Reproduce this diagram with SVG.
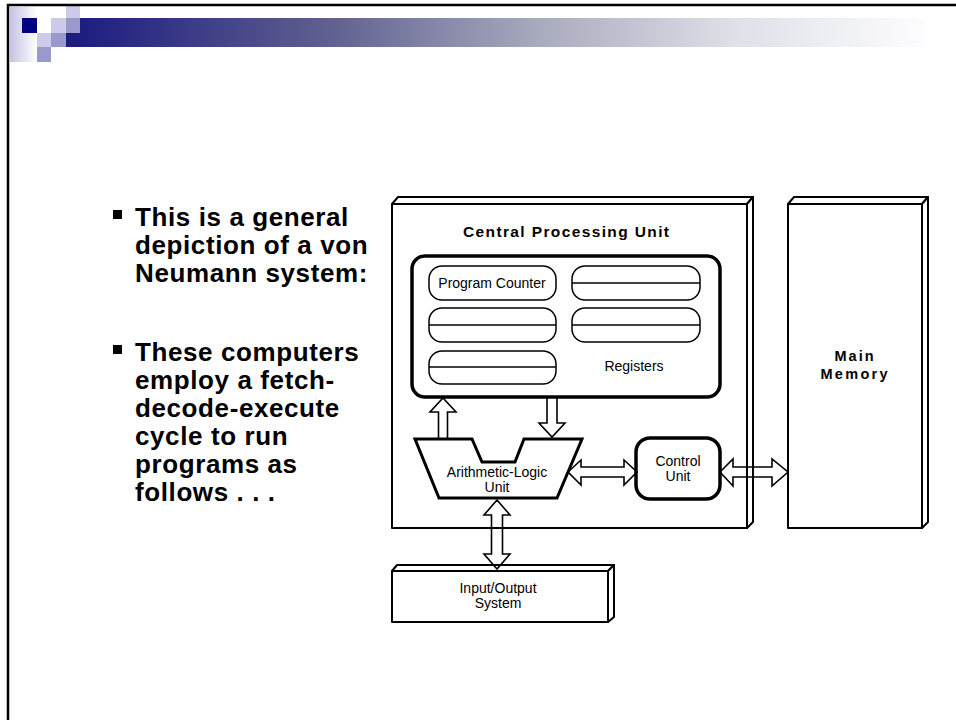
<svg xmlns="http://www.w3.org/2000/svg" width="956" height="720" viewBox="0 0 956 720">
<defs>
<linearGradient id="bar" x1="0" y1="0" x2="1" y2="0">
<stop offset="0" stop-color="#1a1a80"/>
<stop offset="0.3" stop-color="#5e5e90"/>
<stop offset="0.55" stop-color="#a8aabe"/>
<stop offset="0.78" stop-color="#dfe0e8"/>
<stop offset="1" stop-color="#fdfdff"/>
</linearGradient>
<linearGradient id="strip" x1="0" y1="0" x2="1" y2="0">
<stop offset="0" stop-color="#c4c4e2"/>
<stop offset="1" stop-color="#ffffff"/>
</linearGradient>
</defs>
<style>
.box{fill:#fff;stroke:#000;stroke-width:2;stroke-linejoin:round}
.thick{fill:#fff;stroke:#000;stroke-width:3.5}
.reg{fill:#fff;stroke:#000;stroke-width:1.5}
.ln{stroke:#000;stroke-width:1.5}
.arr{fill:none;stroke:#000;stroke-width:1.6;stroke-linejoin:miter}
.t{font-family:"Liberation Sans",Arial,sans-serif;font-size:14px;fill:#000;text-anchor:middle}
.tb{font-family:"Liberation Sans",Arial,sans-serif;font-weight:bold;fill:#000;text-anchor:middle}
.bul{font-family:"Liberation Sans",Arial,sans-serif;font-weight:bold;font-size:26px;letter-spacing:0.6px;fill:#000}
</style>
<rect width="956" height="720" fill="#fff"/>
<g id="header">
<rect x="10" y="7" width="27" height="55" fill="url(#strip)"/>
<rect x="66" y="18" width="859" height="29" fill="url(#bar)"/>
<rect x="22" y="18" width="15" height="15" fill="#000080"/>
<rect x="51" y="18" width="15" height="15" fill="#ccccea"/>
<rect x="66" y="18" width="14" height="15" fill="#9999cc"/>
<rect x="66" y="4" width="14" height="14" fill="#ccccea"/>
<rect x="37" y="33" width="14" height="14" fill="#ccccea"/>
<rect x="51" y="33" width="15" height="14" fill="#9999cc"/>
<rect x="37" y="47" width="14" height="15" fill="#9999cc"/>
<rect x="8" y="5" width="1000" height="800" fill="none" stroke="#000" stroke-width="2.5"/>
</g>
<g id="bullets">
<rect x="113" y="210" width="9" height="9" fill="#000"/>
<text class="bul" x="135" y="226">This is a general</text>
<text class="bul" x="135" y="254">depiction of a von</text>
<text class="bul" x="135" y="282">Neumann system:</text>
<rect x="113" y="345" width="9" height="9" fill="#000"/>
<text class="bul" x="135" y="361">These computers</text>
<text class="bul" x="135" y="389">employ a fetch-</text>
<text class="bul" x="135" y="417">decode-execute</text>
<text class="bul" x="135" y="445">cycle to run</text>
<text class="bul" x="135" y="473">programs as</text>
<text class="bul" x="135" y="501">follows . . .</text>
</g>
<g id="cpu">
<polygon class="box" points="392,204 398,197 753,197 747,204"/>
<polygon class="box" points="747,204 753,197 753,522 747,528"/>
<rect class="box" x="392" y="204" width="355" height="324"/>
<text class="tb" x="566" y="237" font-size="15.5" textLength="206" lengthAdjust="spacing">Central Processing Unit</text>
</g>
<g id="registers">
<rect class="thick" x="412" y="256" width="308" height="141" rx="13"/>
<text class="t" x="634" y="371">Registers</text>
</g>
<g id="program-counter">
<rect class="reg" x="429" y="266" width="127" height="34" rx="13"/>
<text class="t" x="492" y="288">Program Counter</text>
</g>
<g id="reg1">
<rect class="reg" x="572" y="266" width="128" height="34" rx="13"/>
<line class="ln" x1="572" y1="283" x2="700" y2="283"/>
</g>
<g id="reg2">
<rect class="reg" x="429" y="308" width="127" height="34" rx="13"/>
<line class="ln" x1="429" y1="325" x2="556" y2="325"/>
</g>
<g id="reg3">
<rect class="reg" x="572" y="308" width="128" height="34" rx="13"/>
<line class="ln" x1="572" y1="325" x2="700" y2="325"/>
</g>
<g id="reg4">
<rect class="reg" x="429" y="351" width="127" height="33" rx="13"/>
<line class="ln" x1="429" y1="367" x2="556" y2="367"/>
</g>
<g id="alu">
<polygon points="415,439 472,439 482,462 515,462 524,439 582,439 557,498 439,498" fill="#fff" stroke="#000" stroke-width="3" stroke-linejoin="miter"/>
<text class="t" x="497" y="477">Arithmetic-Logic</text>
<text class="t" x="497" y="492">Unit</text>
</g>
<g id="control-unit">
<rect class="thick" x="636" y="438" width="84" height="61" rx="14"/>
<text class="t" x="678" y="466">Control</text>
<text class="t" x="678" y="481">Unit</text>
</g>
<g id="main-memory">
<polygon class="box" points="788,204 794,197 928,197 922,204"/>
<polygon class="box" points="922,204 928,197 928,522 922,528"/>
<rect class="box" x="788" y="204" width="134" height="324"/>
<text class="tb" x="854" y="361" font-size="14.5" textLength="39" lengthAdjust="spacing">Main</text>
<text class="tb" x="854" y="379" font-size="14.5" textLength="67" lengthAdjust="spacing">Memory</text>
</g>
<g id="io-system">
<polygon class="box" points="392,571 397,565 614,565 608,571"/>
<polygon class="box" points="608,571 614,565 614,617 608,622"/>
<rect class="box" x="392" y="571" width="216" height="51"/>
<text class="t" x="498" y="593">Input/Output</text>
<text class="t" x="498" y="608">System</text>
</g>
<g id="connectors">
<polygon class="arr" points="443,398 456,412 447.5,412 447.5,439 438.5,439 438.5,412 430,412"/>
<polygon class="arr" points="547,397 557,397 557,423 565,423 552,437 539,423 547,423"/>
<polygon class="arr" points="568,472 581,460 581,467 624,467 624,460 637,472 624,485 624,477 581,477 581,485"/>
<polygon class="arr" points="720,472 733,459 733,467 772,467 772,459 788,472 772,486 772,477 733,477 733,486"/>
<polygon class="arr" points="497,500 510,515 502.5,515 502.5,554 510,554 497,569 484,554 491.5,554 491.5,515 484,515"/>
</g>
</svg>
